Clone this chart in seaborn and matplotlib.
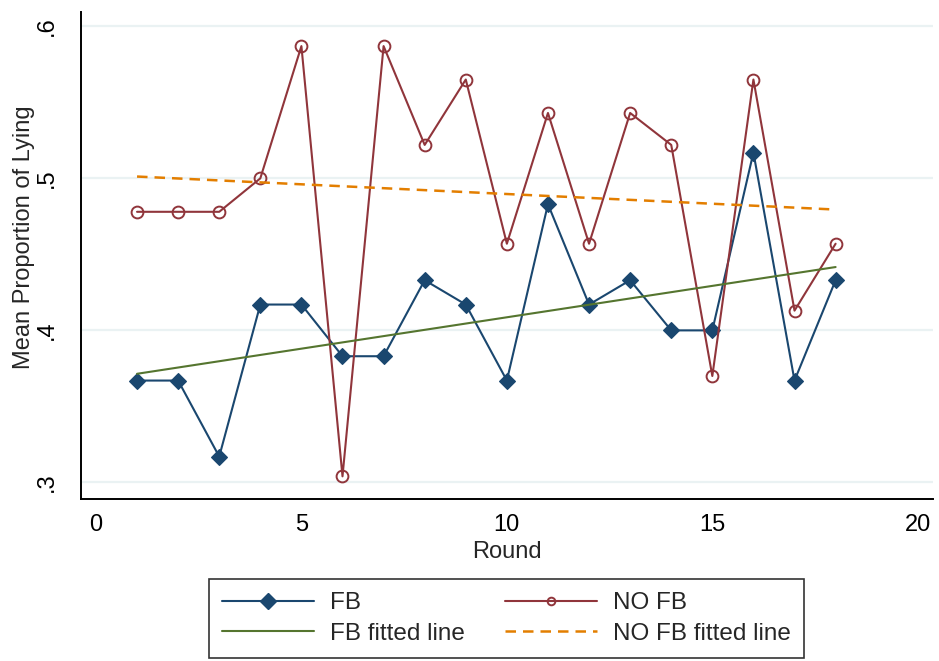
import numpy as np
import pandas as pd
import matplotlib
matplotlib.use("Agg")
import matplotlib.pyplot as plt
import seaborn as sns
from matplotlib.lines import Line2D

# ---- data ----
rounds = list(range(1, 19))
fb = [0.367, 0.367, 0.317, 0.417, 0.417, 0.383, 0.383, 0.433, 0.417,
      0.367, 0.483, 0.417, 0.433, 0.400, 0.400, 0.517, 0.367, 0.433]
no_fb = [0.478, 0.478, 0.478, 0.500, 0.587, 0.304, 0.587, 0.522, 0.565,
         0.457, 0.543, 0.457, 0.543, 0.522, 0.370, 0.565, 0.413, 0.457]
x_ticks = [0, 5, 10, 15, 20]
y_ticks = [0.3, 0.4, 0.5, 0.6]
y_ticklabels = [".3", ".4", ".5", ".6"]
labels = ["FB", "NO FB", "FB fitted line", "NO FB fitted line"]

df = pd.DataFrame({"Round": rounds, "FB": fb, "NOFB": no_fb})

# ---- style ----
sns.set_style("white")
plt.rcParams["font.family"] = ["Liberation Sans", "DejaVu Sans"]

NAVY = "#1a476f"
MAROON = "#90353b"
GREEN = "#55752f"
ORANGE = "#e37e00"
GRID = "#eaf2f3"

fig = plt.figure(figsize=(9.39, 6.61), dpi=100)
ax = fig.add_axes([0.0859, 0.2451, 0.9077, 0.7367])

for yv in y_ticks:
    ax.axhline(yv, color=GRID, lw=1.6, zorder=0)

sns.lineplot(data=df, x="Round", y="FB", ax=ax, color=NAVY, lw=1.5,
             marker="D", markersize=8.3, markerfacecolor=NAVY,
             markeredgecolor=NAVY, markeredgewidth=0.8, zorder=3)
sns.lineplot(data=df, x="Round", y="NOFB", ax=ax, color=MAROON, lw=1.5,
             marker="o", markersize=8.5, markerfacecolor="none",
             markeredgecolor=MAROON, markeredgewidth=1.4, zorder=3)
sns.regplot(data=df, x="Round", y="FB", ax=ax, scatter=False, ci=None,
            truncate=True, color=GREEN, line_kws={"lw": 1.5, "zorder": 4})
sns.regplot(data=df, x="Round", y="NOFB", ax=ax, scatter=False, ci=None,
            truncate=True, color=ORANGE,
            line_kws={"lw": 1.8, "dashes": (4.2, 2.8), "zorder": 4})

ax.set_xlim(-0.372, 20.37)
ax.set_ylim(0.2891, 0.6094)
ax.set_xticks(x_ticks)
ax.set_xticklabels([str(v) for v in x_ticks])
ax.set_yticks(y_ticks)
ax.set_yticklabels(y_ticklabels, rotation=90, va="center")

for s in ["top", "right"]:
    ax.spines[s].set_visible(False)
for s in ["left", "bottom"]:
    ax.spines[s].set_color("black")
    ax.spines[s].set_linewidth(1.4)

ax.tick_params(axis="both", which="major", direction="out", length=7.5,
               width=1.3, color="black", labelsize=17, labelcolor="black")
ax.tick_params(axis="y", pad=9)
ax.tick_params(axis="x", pad=3)

ax.set_xlabel("Round", fontsize=17, labelpad=4)
ax.set_ylabel("Mean Proportion of Lying", fontsize=17)
ax.yaxis.set_label_coords(-0.054, 0.538)

handles = [
    Line2D([], [], color=NAVY, lw=1.5, marker="D", markersize=8.3,
           markerfacecolor=NAVY, markeredgecolor=NAVY),
    Line2D([], [], color=GREEN, lw=1.5),
    Line2D([], [], color=MAROON, lw=1.5, marker="o", markersize=5.5,
           markerfacecolor="none", markeredgecolor=MAROON, markeredgewidth=1.4),
    Line2D([], [], color=ORANGE, lw=1.8, dashes=(4.2, 2.8)),
]
leg_labels = [labels[0], labels[2], labels[1], labels[3]]
leg = fig.legend(handles, leg_labels, ncol=2, loc="center",
                 bbox_to_anchor=(0.5394, 0.0643), fontsize=17.5,
                 frameon=True, fancybox=False, shadow=False,
                 handlelength=3.8, handletextpad=0.65, columnspacing=1.65,
                 labelspacing=0.35, borderpad=0.55, numpoints=1)
leg.get_frame().set_edgecolor("black")
leg.get_frame().set_linewidth(1.2)

fig.savefig("out.png", dpi=100, facecolor="white")
